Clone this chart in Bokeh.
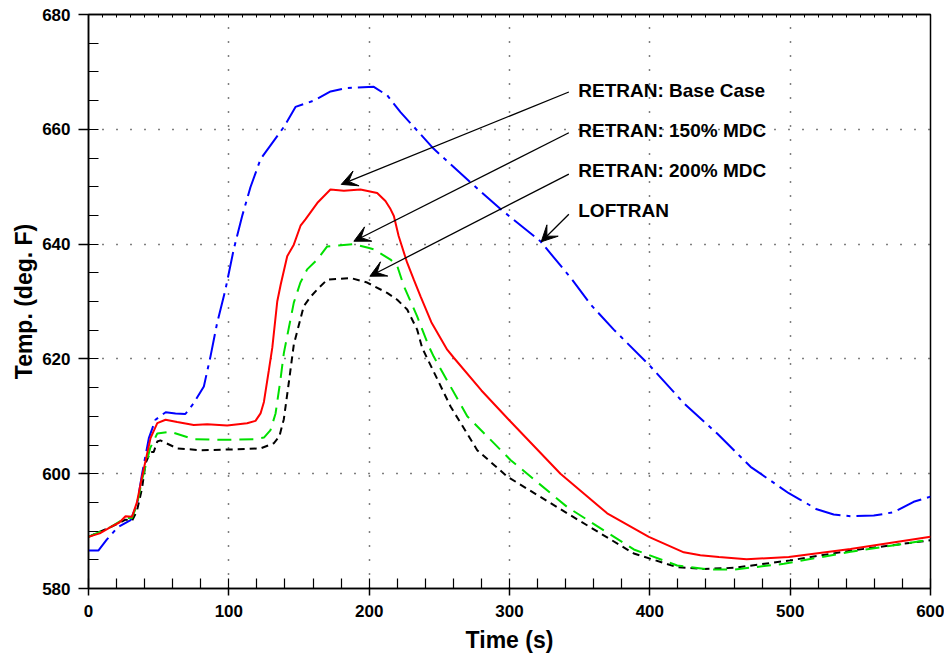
from bokeh.plotting import figure
from bokeh.models import (Range1d, SingleIntervalTicker, FixedTicker, LinearAxis, Arrow, VeeHead, Label)
from bokeh.embed import file_html
from bokeh.resources import INLINE

FONT = "Liberation Sans"

# ---- data (time s, temperature deg F) ----
loftran_t = [0, 7, 13, 21, 30, 34.7, 38.2, 43, 47.7, 55, 62, 69, 75, 82.2, 86.9, 91.7, 97.6, 103.5,
             109.5, 115.4, 122.6, 129.7, 139.2, 147.5, 160.6, 172.5, 184.3, 203.3, 212.9, 222.3,
             246, 272, 293.6, 322, 344.7, 357.7, 374.3, 399.3, 424.2, 448, 471.8, 499, 507, 519,
             531, 543, 559.6, 573.9, 588, 600]
loftran_T = [586.6, 586.6, 588.5, 590.7, 591.9, 594.8, 600.0, 606.2, 609.4, 610.7, 610.5, 610.4,
             612.3, 615.2, 620.4, 626.3, 632.1, 639.1, 644.9, 649.9, 654.8, 657.2, 660.4, 663.9,
             665.0, 666.6, 667.2, 667.4, 665.9, 663.0, 656.6, 650.8, 646.1, 640.5, 633.8, 629.5,
             625.1, 619.0, 612.3, 607.0, 601.2, 596.6, 595.5, 593.8, 592.9, 592.6, 592.7, 593.3,
             595.1, 596.0]

base_t = [0, 8, 15.7, 22, 26.4, 31, 34.5, 38.2, 44.2, 49, 54.9, 63.2, 75, 84.6, 98.8, 113, 119,
          122.6, 125, 128.5, 131, 134.5, 137, 141.6, 146.3, 151.1, 154.6, 163.5, 172.4, 182,
          193.8, 205.7, 211.6, 215.2, 217.6, 221, 227, 231.8, 236.6, 244.3, 255.6, 260.3, 280,
          299.5, 336.3, 369.6, 399.3, 424.2, 436, 449.2, 469, 499, 543, 600]
base_T = [589.0, 589.6, 590.7, 591.5, 592.6, 592.5, 595.0, 599.5, 606.2, 608.8, 609.4, 609.0,
          608.5, 608.6, 608.4, 608.8, 609.2, 610.5, 612.5, 618.0, 622.0, 630.0, 633.0, 637.9,
          639.9, 643.2, 644.3, 647.3, 649.5, 649.3, 649.5, 648.9, 647.5, 646.1, 644.9, 641.4,
          636.8, 633.8, 630.9, 626.4, 621.6, 620.2, 614.5, 609.4, 600.0, 593.1, 589.0, 586.3,
          585.8, 585.5, 585.1, 585.5, 586.9, 589.0]

mdc150_t = [0, 15.7, 26.4, 31, 34.5, 38.2, 44, 49, 58.4, 75, 98.8, 117.8, 125, 129.7, 133.3,
            136.8, 139.2, 146.3, 151, 155.8, 163, 170.1, 189, 198.6, 203.3, 215.2, 220, 224.7,
            234.2, 242.5, 246, 269.9, 300.7, 341.1, 388.6, 419.5, 443, 460, 495.5, 543, 600]
mdc150_T = [589.0, 590.7, 592.3, 592.3, 594.5, 599.0, 604.5, 607.0, 607.3, 606.0, 605.9, 606.0,
            606.3, 607.6, 610.5, 616.4, 621.0, 629.8, 633.3, 635.6, 637.3, 639.6, 640.0, 639.4,
            639.1, 637.3, 636.2, 632.7, 627.4, 622.2, 620.4, 610.0, 602.4, 594.2, 586.8, 584.0,
            583.3, 583.3, 584.3, 586.4, 588.5]

mdc200_t = [0, 15.7, 26.4, 31, 34.5, 38.2, 40.6, 44.2, 46.5, 49, 51.3, 63.2, 79.8, 98.8, 122.6,
            132, 136, 139.2, 142.7, 146.3, 153.4, 158.2, 163, 170.1, 186.7, 198.6, 212.8, 220,
            227.1, 234.2, 237.8, 258, 277, 298.4, 341.1, 388.6, 419.5, 438.5, 460, 500, 543, 600]
mdc200_T = [589.0, 590.7, 592.0, 591.8, 593.5, 597.5, 601.8, 603.8, 603.8, 605.6, 605.8, 604.4,
            604.1, 604.2, 604.4, 605.3, 606.5, 609.5, 615.8, 622.5, 629.2, 630.8, 632.1, 633.8,
            634.1, 633.3, 631.5, 630.3, 628.6, 625.1, 621.9, 611.7, 604.1, 599.5, 593.1, 586.1,
            583.7, 583.4, 583.6, 584.9, 586.6, 588.4]

labels = ["RETRAN: Base Case", "RETRAN: 150% MDC", "RETRAN: 200% MDC", "LOFTRAN"]
x_ticks_step = 100
y_ticks_step = 20
top_minor_ticks = list(range(0, 601, 10))

# ---- annotation layout (data coords) ----
label_x = 349.0
label_y = [666.7, 659.8, 652.8, 645.8]
arrow_start = [(342.3, 666.5), (342.3, 659.4), (342.3, 652.2), (342.3, 645.2)]
arrow_tip = [(180.1, 650.4), (189.1, 640.5), (200.5, 634.4), (322.6, 640.4)]

p = figure(frame_width=842, frame_height=574, output_backend="svg", toolbar_location=None,
           x_range=Range1d(0, 600), y_range=Range1d(580, 680),
           min_border_left=88, min_border_right=14, min_border_top=14, min_border_bottom=80)
p.background_fill_color = "white"
p.border_fill_color = "white"
p.outline_line_color = "black"
p.outline_line_width = 1.5

# grids
p.xgrid.ticker = SingleIntervalTicker(interval=x_ticks_step)
p.ygrid.ticker = SingleIntervalTicker(interval=y_ticks_step)
for g in (p.xgrid, p.ygrid):
    g.grid_line_color = "black"
    g.grid_line_dash = "1 13"
    g.grid_line_width = 1.5

# axes
xa = p.xaxis[0]
xa.ticker = SingleIntervalTicker(interval=x_ticks_step, num_minor_ticks=5)
xa.major_tick_in = 0
xa.major_tick_out = 7
xa.minor_tick_in = 10
xa.minor_tick_out = 0
xa.major_label_standoff = 9
xa.axis_label = "Time (s)"
xa.axis_label_standoff = 7

ya = p.yaxis[0]
ya.ticker = SingleIntervalTicker(interval=y_ticks_step, num_minor_ticks=4)
ya.major_tick_in = 0
ya.major_tick_out = 10
ya.minor_tick_in = 10
ya.minor_tick_out = 0
ya.major_label_standoff = 8
ya.axis_label = "Temp. (deg. F)"
ya.axis_label_standoff = 2

for a in (xa, ya):
    a.axis_line_color = "black"
    a.axis_line_width = 1.5
    a.major_tick_line_color = "black"
    a.major_tick_line_width = 1.5
    a.minor_tick_line_color = "black"
    a.minor_tick_line_width = 1.2
    a.major_label_text_font = FONT
    a.major_label_text_font_style = "bold"
    a.major_label_text_font_size = "17px"
    a.major_label_text_color = "black"
    a.axis_label_text_font = FONT
    a.axis_label_text_font_style = "bold"
    a.axis_label_text_font_size = "23px"
    a.axis_label_text_color = "black"

top = LinearAxis(ticker=FixedTicker(ticks=[], minor_ticks=top_minor_ticks),
                 minor_tick_in=3, minor_tick_out=0, minor_tick_line_color="black",
                 major_tick_line_color=None, major_label_standoff=0,
                 axis_line_color="black", axis_line_width=1.5)
p.add_layout(top, "above")

# series
p.line(loftran_t, loftran_T, line_color="#0000ff", line_width=2, line_dash="26 6 4 6")
p.line(mdc200_t, mdc200_T, line_color="black", line_width=2, line_dash="7 5")
p.line(mdc150_t, mdc150_T, line_color="#00e000", line_width=2, line_dash="14 8")
p.line(base_t, base_T, line_color="#ff0000", line_width=2)

# annotations
for lab, ly, (sx, sy), (ex, ey) in zip(labels, label_y, arrow_start, arrow_tip):
    p.add_layout(Arrow(end=VeeHead(size=16, fill_color="black", line_color="black", line_width=1),
                       x_start=sx, y_start=sy, x_end=ex, y_end=ey,
                       line_color="black", line_width=1.3))
    p.add_layout(Label(x=label_x, y=ly, text=lab, text_font=FONT, text_font_style="bold",
                       text_font_size="19px", text_baseline="middle", text_align="left",
                       text_color="black"))

open("out.html", "w").write(file_html(p, INLINE))
